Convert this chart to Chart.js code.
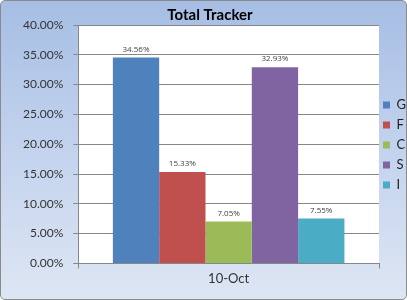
<!DOCTYPE html>
<html>
<head>
<meta charset="utf-8">
<script src="https://cdn.jsdelivr.net/npm/chart.js@4"></script>
<style>
  html, body { margin: 0; padding: 0; background: #fff; }
  #wrap {
    position: absolute; left: 0; top: 0;
    width: 405px; height: 298px;
    border: 1px solid #8a8a8a; border-radius: 5px;
    background: linear-gradient(to bottom, #a6bee4 0%, #c3d3ee 50%, #dde6f3 100%);
    overflow: hidden;
  }
  canvas { position: absolute; left: -1px; top: -1px; }
</style>
</head>
<body>
<div id="wrap"><canvas id="grafico" width="407" height="300"></canvas></div>
<script>
// dados do gráfico
const categorias = ["10-Oct"];
const series = ["G", "F", "C", "S", "I"];
const valores = [34.56, 15.33, 7.05, 32.93, 7.55];
const cores = ["#4f81bd", "#c0504d", "#9bbb59", "#8064a2", "#4bacc6"];
const ticksY = [0, 5, 10, 15, 20, 25, 30, 35, 40];

// fundo branco só na área de plotagem
const fundoArea = {
    id: "fundoArea",
    beforeDraw(chart) {
        const { ctx, chartArea: a } = chart;
        ctx.save();
        ctx.fillStyle = "#ffffff";
        ctx.fillRect(a.left, a.top, a.right - a.left, a.bottom - a.top);
        ctx.restore();
    }
};

// legenda estreita, colada na área de plotagem
const ajusteLegenda = {
    id: "ajusteLegenda",
    beforeLayout(chart) {
        const lg = chart.legend;
        if (lg && !lg._ajustada) {
            const fitOriginal = lg.fit;
            lg.fit = function () {
                fitOriginal.call(this);
                this.width = 28;
            };
            lg._ajustada = true;
        }
    },
    afterLayout(chart) {
        chart.legend.left -= 3;
    }
};

// rótulos de valor acima das barras
const rotulos = {
    id: "rotulos",
    afterDatasetsDraw(chart) {
        const ctx = chart.ctx;
        ctx.save();
        ctx.font = "8px 'Open Sans', sans-serif";
        ctx.fillStyle = "#404040";
        ctx.textAlign = "center";
        ctx.textBaseline = "bottom";
        chart.data.datasets.forEach((ds, i) => {
            chart.getDatasetMeta(i).data.forEach((bar, j) => {
                ctx.fillText(ds.data[j].toFixed(2) + "%", bar.x, bar.y - 4);
            });
        });
        ctx.restore();
    }
};

new Chart(document.getElementById("grafico"), {
    type: "bar",
    data: {
        labels: categorias,
        datasets: series.map((nome, i) => ({
            label: nome,
            data: [valores[i]],
            backgroundColor: cores[i],
            borderWidth: 0,
            categoryPercentage: 0.77,
            barPercentage: 1.0
        }))
    },
    options: {
        responsive: false,
        animation: false,
        devicePixelRatio: 1,
        layout: { padding: { left: 13, right: 0, top: 0, bottom: 10 } },
        plugins: {
            title: {
                display: true,
                text: "Total Tracker",
                color: "#000",
                font: { family: "Lato", size: 15, weight: "bold", lineHeight: 1.0 },
                padding: { top: 8, bottom: 2 }
            },
            legend: {
                position: "right",
                labels: {
                    color: "#222",
                    font: { family: "Lato", size: 13 },
                    boxWidth: 7,
                    boxHeight: 7,
                    padding: 7
                }
            },
            tooltip: { enabled: false }
        },
        scales: {
            x: {
                grid: { drawOnChartArea: false, color: "#878787", tickLength: 5 },
                border: { color: "#878787" },
                ticks: { color: "#333", font: { family: "Lato", size: 13 }, padding: 3 }
            },
            y: {
                min: 0,
                max: 40,
                afterBuildTicks(axis) { axis.ticks = ticksY.map(v => ({ value: v })); },
                grid: { color: "#878787", tickLength: 5 },
                border: { color: "#878787" },
                ticks: {
                    color: "#333",
                    font: { family: "Lato", size: 12 },
                    padding: 10,
                    callback: v => v.toFixed(2) + "%"
                }
            }
        }
    },
    plugins: [fundoArea, ajusteLegenda, rotulos]
});
</script>
</body>
</html>
